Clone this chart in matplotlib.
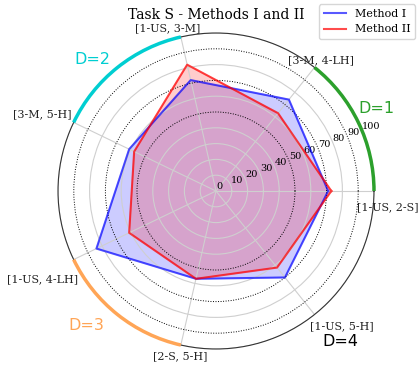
import matplotlib
matplotlib.use("Agg")
import matplotlib.pyplot as plt
import numpy as np
from matplotlib.patches import Arc

plt.rcParams["font.family"] = ["DejaVu Serif"]

# categories, counter-clockwise from 0 deg
categories = ["[1-US, 2-S]", "[3-M, 4-LH]", "[1-US, 3-M]", "[3-M, 5-H]",
              "[1-US, 4-LH]", "[2-S, 5-H]", "[1-US, 5-H]"]
method_1 = [71, 74, 72, 61, 84, 57, 70]
method_2 = [73, 63, 82, 57.5, 61, 57, 62]
r_ticks = [0, 10, 20, 30, 40, 50, 60, 70, 80, 90, 100]
dotted_rings = [50, 70, 90]

# D groups: first and last category index of each arc
group_labels = ["D=1", "D=2", "D=3", "D=4"]
group_first = [0, 2, 4, 6]
group_last = [1, 3, 5, 6]
group_colors = ["#2ca02c", "darkturquoise", "#ffa556", "black"]

# label placement (theta in degrees, radius in data units)
cat_label_pos = [(-5.3, 109), (51.3, 106), (106.4, 107.5), (156, 120),
                 (207, 123), (257.7, 107), (313, 117)]
group_label_pos = [(27.1, 114), (133.2, 114), (226, 118), (309.4, 123.6)]

n = len(categories)
angles = np.arange(n) * 2 * np.pi / n
angles_closed = np.append(angles, angles[0])

fig = plt.figure(figsize=(4.2, 3.66), dpi=100)
ax = fig.add_axes([58 / 420, 17 / 366, 316 / 420, 316 / 366], projection="polar")

ax.plot(angles_closed, method_1 + method_1[:1], color="blue", alpha=0.65, lw=1.5, label="Method I")
ax.fill(angles_closed, method_1 + method_1[:1], color="blue", alpha=0.2)
ax.plot(angles_closed, method_2 + method_2[:1], color="red", alpha=0.7, lw=1.5, label="Method II")
ax.fill(angles_closed, method_2 + method_2[:1], color="red", alpha=0.2)

ax.set_ylim(0, 100)
ax.set_yticks(r_ticks)
ax.set_yticklabels([str(v) for v in r_ticks], fontsize=7)
ax.set_rlabel_position(22.5)
ax.set_xticks(angles)
ax.set_xticklabels([])
ax.grid(color="#cfcfcf", lw=0.8)
for val, gl in zip(r_ticks, ax.yaxis.get_gridlines()):
    if val in dotted_rings:
        gl.set_color("black")
        gl.set_linestyle((0, (1, 1.6)))
        gl.set_linewidth(0.7)
ax.spines["polar"].set_color("#333333")
ax.spines["polar"].set_linewidth(0.8)

for label, (th, r) in zip(categories, cat_label_pos):
    ax.text(np.deg2rad(th), r, label, fontsize=8, color="#222222",
            ha="center", va="center", clip_on=False)

for lab, i0, i1, col, (th, r) in zip(group_labels, group_first, group_last,
                                      group_colors, group_label_pos):
    if i1 > i0:
        ax.add_patch(Arc((0.5, 0.5), 1, 1, theta1=np.rad2deg(angles[i0]),
                         theta2=np.rad2deg(angles[i1]), transform=ax.transAxes,
                         color=col, lw=2.5, clip_on=False, zorder=5))
    ax.text(np.deg2rad(th), r, lab, fontsize=11.5, color=col, family="DejaVu Sans",
            ha="center", va="center", clip_on=False)

ax.set_title("Task S - Methods I and II", fontsize=10, pad=10)
fig.legend(loc="upper right", bbox_to_anchor=(0.988, 0.988), fontsize=8, borderaxespad=0)

fig.savefig("out.png", dpi=100)
